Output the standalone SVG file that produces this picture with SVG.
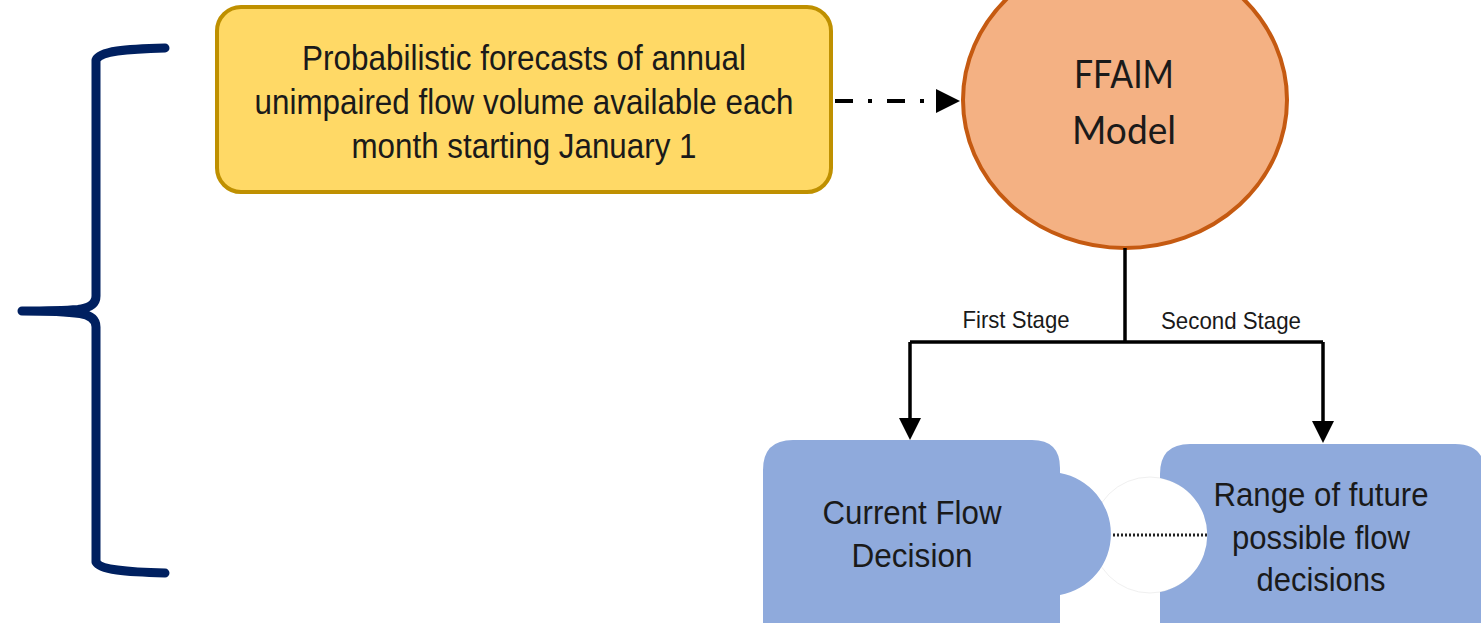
<svg xmlns="http://www.w3.org/2000/svg" width="1481" height="623" viewBox="0 0 1481 623">
<style>
.t{font-family:"Liberation Sans",Arial,sans-serif;fill:#1a1a1a;text-anchor:middle}
.c{font-family:Lato,"Open Sans",sans-serif;fill:#1a1a1a;text-anchor:middle}
.conn{stroke:#000;stroke-width:3.5;fill:none}
.blue{fill:#8FAADC}
</style>
<g id="brace">
<path d="M165,48 C125,49 100,51 96,60 L96,296 C96,304 90,308 78,309.5 C60,311 40,311 22,311 C40,311 62,311 80,313.5 C90,315 96,319 96,327 L96,562 C100,570 125,572 165,573" fill="none" stroke="#002060" stroke-width="9" stroke-linecap="round" stroke-linejoin="round"/>
</g>
<g id="forecast">
<rect x="217" y="7" width="614" height="185" rx="24" fill="#FFD966" stroke="#BF9000" stroke-width="4"/>
<text class="t" font-size="35"><tspan x="524" y="70" textLength="444" lengthAdjust="spacingAndGlyphs">Probabilistic forecasts of annual</tspan><tspan x="524" y="114" textLength="539" lengthAdjust="spacingAndGlyphs">unimpaired flow volume available each</tspan><tspan x="524" y="158" textLength="345" lengthAdjust="spacingAndGlyphs">month starting January 1</tspan></text>
</g>
<g id="ffaim">
<ellipse cx="1125" cy="100" rx="162" ry="148" fill="#F4B183" stroke="#C55A11" stroke-width="4"/>
<text class="c" font-size="39"><tspan x="1124" y="88" textLength="100" lengthAdjust="spacingAndGlyphs">FFAIM</tspan><tspan x="1124" y="144" textLength="104" lengthAdjust="spacingAndGlyphs">Model</tspan></text>
</g>
<g id="future">
<circle cx="1150" cy="535" r="58" fill="#fff" stroke="#f0f0f0" stroke-width="1"/>
<path class="blue" d="M1160,640 L1160,592 A58,58 0 0 0 1160,478 L1160,474 Q1160,444 1190,444 L1455,444 Q1485,444 1485,474 L1485,640 Z"/>
<text class="t" font-size="34"><tspan x="1321" y="506" textLength="215" lengthAdjust="spacingAndGlyphs">Range of future</tspan><tspan x="1321" y="549" textLength="178" lengthAdjust="spacingAndGlyphs">possible flow</tspan><tspan x="1321" y="591" textLength="129" lengthAdjust="spacingAndGlyphs">decisions</tspan></text>
</g>
<g id="current">
<path class="blue" d="M763,640 L763,470 Q763,440 793,440 L1032,440 Q1060,440 1060,468 L1060,473 A62,62 0 0 1 1060,595 L1060,640 Z"/>
<text class="t" font-size="34"><tspan x="912" y="524" textLength="179" lengthAdjust="spacingAndGlyphs">Current Flow</tspan><tspan x="912" y="567" textLength="121" lengthAdjust="spacingAndGlyphs">Decision</tspan></text>
</g>
<g id="connectors">
<path d="M835,101 L940,101" stroke="#000" stroke-width="4" stroke-dasharray="18 15 4 15" fill="none"/>
<path d="M936,89 L960,101 L936,113 Z" fill="#000"/>
<path class="conn" d="M1125,248 L1125,342"/>
<path class="conn" d="M910,342 L1323,342"/>
<path class="conn" d="M910,342 L910,420"/>
<path d="M899,418 L910,440 L921,418 Z" fill="#000"/>
<path class="conn" d="M1323,342 L1323,423"/>
<path d="M1312,421 L1323,443 L1334,421 Z" fill="#000"/>
<path d="M1113,535 L1207,535" stroke="#222" stroke-width="3" stroke-dasharray="2 2" fill="none"/>
<text class="t" font-size="24" x="1016" y="328" textLength="107" lengthAdjust="spacingAndGlyphs">First Stage</text>
<text class="t" font-size="24" x="1231" y="329" textLength="140" lengthAdjust="spacingAndGlyphs">Second Stage</text>
</g>
</svg>
